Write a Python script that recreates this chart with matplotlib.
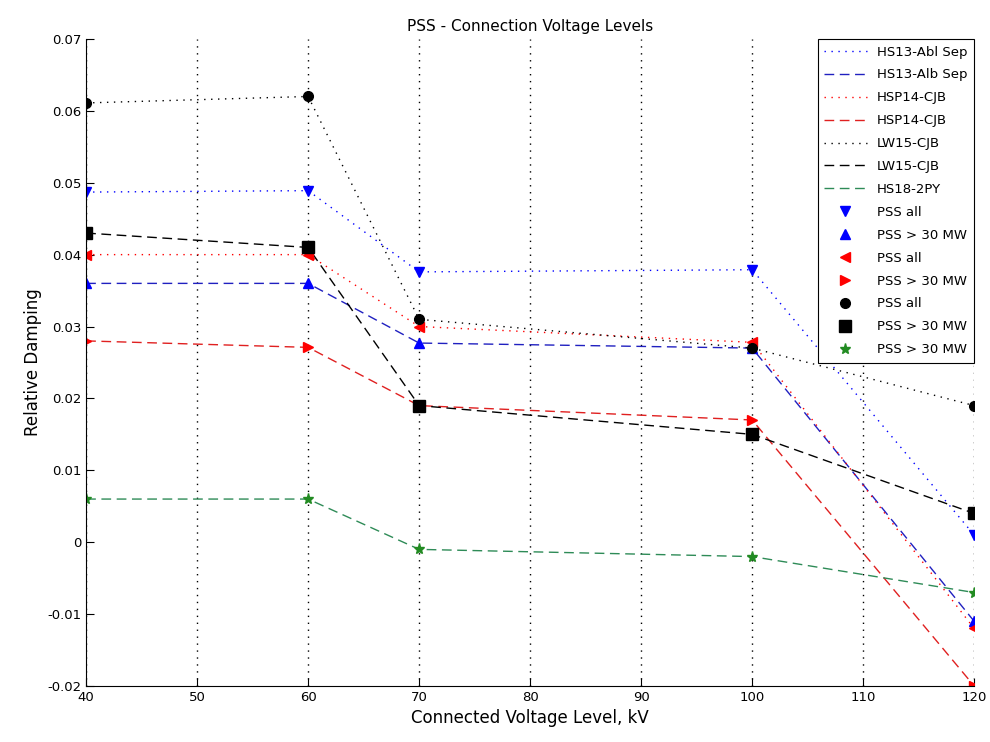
import matplotlib.pyplot as plt

# Connected voltage levels (kV)
voltage = [40, 60, 70, 100, 120]

# Relative damping
hs13_all = [0.0487, 0.0489, 0.0376, 0.0379, 0.0010]
hs13_30 = [0.0360, 0.0360, 0.0277, 0.0270, -0.0110]
hsp14_all = [0.0400, 0.0400, 0.0300, 0.0278, -0.0120]
hsp14_30 = [0.0280, 0.0271, 0.0190, 0.0170, -0.0200]
lw15_all = [0.0611, 0.0620, 0.0310, 0.0270, 0.0190]
lw15_30 = [0.0430, 0.0410, 0.0190, 0.0150, 0.0040]
hs18_30 = [0.0060, 0.0060, -0.0010, -0.0020, -0.0070]

fig = plt.figure(figsize=(9.9, 7.42), dpi=100)
ax = fig.add_axes([0.087, 0.0755, 0.897, 0.872])

dash = (0, (7, 4))
dot = (0, (1, 4))

# lines first (as in the legend), then markers
ax.plot(voltage, hs13_all, color='blue', linestyle=dot, lw=1, label='HS13-Abl Sep')
ax.plot(voltage, hs13_30, color='#2020c0', linestyle=dash, lw=1, label='HS13-Alb Sep')
ax.plot(voltage, hsp14_all, color='red', linestyle=dot, lw=1, label='HSP14-CJB')
ax.plot(voltage, hsp14_30, color='#e02020', linestyle=dash, lw=1, label='HSP14-CJB')
ax.plot(voltage, lw15_all, color='black', linestyle=dot, lw=1, label='LW15-CJB')
ax.plot(voltage, lw15_30, color='black', linestyle=dash, lw=1, label='LW15-CJB')
ax.plot(voltage, hs18_30, color='#2e8b57', linestyle=dash, lw=1, label='HS18-2PY')

ax.plot(voltage, hs13_all, 'v', color='blue', ms=7, label='PSS all')
ax.plot(voltage, hs13_30, '^', color='blue', ms=7, label='PSS > 30 MW')
ax.plot(voltage, hsp14_all, '<', color='red', ms=7, label='PSS all')
ax.plot(voltage, hsp14_30, '>', color='red', ms=7, label='PSS > 30 MW')
ax.plot(voltage, lw15_all, 'o', color='black', ms=7, label='PSS all')
ax.plot(voltage, lw15_30, 's', color='black', ms=8, label='PSS > 30 MW')
ax.plot(voltage, hs18_30, '*', color='#228b22', ms=8, label='PSS > 30 MW')

ax.set_xlim(40, 120)
ax.set_ylim(-0.02, 0.07)
ax.set_xticks(range(40, 121, 10))
ax.set_yticks([-0.02, -0.01, 0, 0.01, 0.02, 0.03, 0.04, 0.05, 0.06, 0.07])
ax.set_yticklabels(['-0.02', '-0.01', '0', '0.01', '0.02', '0.03', '0.04', '0.05', '0.06', '0.07'])
ax.tick_params(direction='in', labelsize=9.5, length=6)
ax.xaxis.grid(True, color='black', linestyle=(0, (1, 4)), lw=1)

for side in ['top', 'right']:
    ax.spines[side].set_visible(False)

ax.set_title('PSS - Connection Voltage Levels', fontsize=11)
ax.set_xlabel('Connected Voltage Level, kV', fontsize=12)
ax.set_ylabel('Relative Damping', fontsize=12)

leg = ax.legend(loc='upper right', fontsize=9.5, fancybox=False, edgecolor='black',
                framealpha=1, borderaxespad=0.0, handlelength=3.2, labelspacing=0.75,
                borderpad=0.5, bbox_to_anchor=(1.0, 1.0))
leg.get_frame().set_linewidth(0.8)

fig.savefig('out.png', dpi=100)
